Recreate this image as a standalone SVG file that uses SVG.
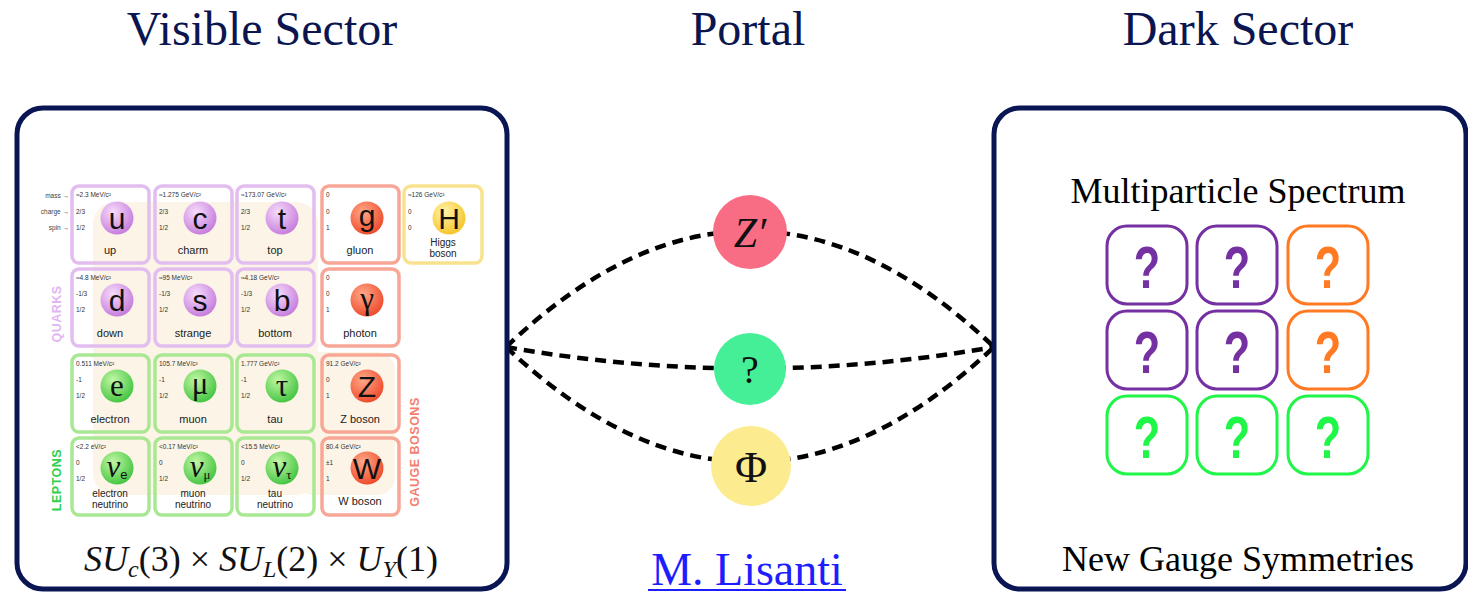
<svg xmlns="http://www.w3.org/2000/svg" width="1468" height="593" viewBox="0 0 1468 593">
  <defs>
    <radialGradient id="gQuark" cx="0.38" cy="0.32" r="0.75">
      <stop offset="0" stop-color="#f6dcfb"/>
      <stop offset="1" stop-color="#c376da"/>
    </radialGradient>
    <radialGradient id="gLepton" cx="0.38" cy="0.32" r="0.75">
      <stop offset="0" stop-color="#c2f7a4"/>
      <stop offset="1" stop-color="#3cc23c"/>
    </radialGradient>
    <radialGradient id="gBoson" cx="0.38" cy="0.32" r="0.75">
      <stop offset="0" stop-color="#ffa888"/>
      <stop offset="1" stop-color="#ec4526"/>
    </radialGradient>
    <radialGradient id="gHiggs" cx="0.38" cy="0.32" r="0.75">
      <stop offset="0" stop-color="#fff3a8"/>
      <stop offset="1" stop-color="#f5c221"/>
    </radialGradient>
    <style>
      .title { font-family: "Liberation Serif", "Times New Roman", serif; font-size: 48px; fill: #0b1550; text-anchor: middle; }
      .label { font-family: "Liberation Serif", "Times New Roman", serif; font-size: 36px; fill: #000; text-anchor: middle; }
      .sector { fill: #fff; stroke: #0a1654; stroke-width: 5; }
      .cell { fill: none; stroke-width: 3.5; }
      .cq { stroke: #e2bdf0; }
      .cl { stroke: #a9e892; }
      .cb { stroke: #f8a696; }
      .ch { stroke: #f8e28e; }
      .info { font-family: "Liberation Sans", Arial, sans-serif; font-size: 6.5px; fill: #333; }
      .side { font-family: "Liberation Sans", Arial, sans-serif; font-size: 6.5px; fill: #444; text-anchor: end; }
      .name { font-family: "Liberation Sans", Arial, sans-serif; font-size: 11px; fill: #222; text-anchor: middle; }
      .name2 { font-family: "Liberation Sans", Arial, sans-serif; font-size: 10px; fill: #222; text-anchor: middle; }
      .sym { font-family: "Liberation Sans", Arial, sans-serif; font-size: 30px; fill: #111; text-anchor: middle; }
      .symg { font-family: "Liberation Serif", "Times New Roman", serif; font-size: 31px; fill: #111; text-anchor: middle; }
      .group { font-family: "Liberation Sans", Arial, sans-serif; font-size: 12.5px; font-weight: bold; text-anchor: middle; letter-spacing: 0.5px; }
      .dash { fill: none; stroke: #000; stroke-width: 4.5; stroke-dasharray: 11 7; }
      .portal { font-family: "Liberation Serif", "Times New Roman", serif; fill: #111; text-anchor: middle; }
      .dbox { fill: #fff; stroke-width: 3; }
      .qm { font-family: "Liberation Sans", Arial, sans-serif; font-size: 60px; font-weight: bold; text-anchor: middle; }
    </style>
  </defs>

  <rect width="1468" height="593" fill="#fff"/>

  <!-- headings -->
  <text class="title" x="262" y="45">Visible Sector</text>
  <text class="title" x="748" y="45">Portal</text>
  <text class="title" x="1238" y="45">Dark Sector</text>

  <!-- connectors -->
  <g id="connectors">
    <path class="dash" d="M506,347 Q750,115 994,347"/>
    <path class="dash" d="M506,347 Q750,390 994,347"/>
    <path class="dash" d="M506,347 Q750,577 994,347"/>
  </g>

  <!-- visible sector: standard model chart -->
  <g id="visible-sector">
    <rect class="sector" x="17" y="108" width="490" height="481" rx="26"/>
    <!-- chart background -->
    <rect x="93" y="202" width="225" height="293" rx="22" fill="#fcf4e6"/>
    <rect x="296" y="352" width="99" height="143" rx="18" fill="#fcf4e6"/>

    <!-- row labels -->
    <text class="side" x="69" y="198">mass →</text>
    <text class="side" x="69" y="214">charge →</text>
    <text class="side" x="69" y="230">spin →</text>

    <text class="group" transform="translate(61,314) rotate(-90)" fill="#e2b6f2">QUARKS</text>
    <text class="group" transform="translate(61,480) rotate(-90)" fill="#2fd14f">LEPTONS</text>
    <text class="group" transform="translate(419,452) rotate(-90)" fill="#f37f70">GAUGE BOSONS</text>

    <!-- quarks, row 1 -->
    <g id="cell-up">
      <rect class="cell cq" x="72" y="186" width="77" height="77" rx="7"/>
      <text class="info" x="76" y="197">≈2.3 MeV/c²</text>
      <text class="info" x="76" y="214">2/3</text>
      <text class="info" x="76" y="230">1/2</text>
      <circle cx="117" cy="218" r="16.5" fill="url(#gQuark)"/>
      <text class="sym" x="117" y="229">u</text>
      <text class="name" x="110" y="254">up</text>
    </g>
    <g id="cell-charm">
      <rect class="cell cq" x="155" y="186" width="77" height="77" rx="7"/>
      <text class="info" x="159" y="197">≈1.275 GeV/c²</text>
      <text class="info" x="159" y="214">2/3</text>
      <text class="info" x="159" y="230">1/2</text>
      <circle cx="200" cy="218" r="16.5" fill="url(#gQuark)"/>
      <text class="sym" x="200" y="229">c</text>
      <text class="name" x="193" y="254">charm</text>
    </g>
    <g id="cell-top">
      <rect class="cell cq" x="237" y="186" width="77" height="77" rx="7"/>
      <text class="info" x="241" y="197">≈173.07 GeV/c²</text>
      <text class="info" x="241" y="214">2/3</text>
      <text class="info" x="241" y="230">1/2</text>
      <circle cx="282" cy="218" r="16.5" fill="url(#gQuark)"/>
      <text class="sym" x="282" y="229">t</text>
      <text class="name" x="275" y="254">top</text>
    </g>
    <g id="cell-gluon">
      <rect class="cell cb" x="322" y="186" width="77" height="77" rx="7"/>
      <text class="info" x="326" y="197">0</text>
      <text class="info" x="326" y="214">0</text>
      <text class="info" x="326" y="230">1</text>
      <circle cx="367" cy="218" r="16.5" fill="url(#gBoson)"/>
      <text class="sym" x="367" y="226">g</text>
      <text class="name" x="360" y="254">gluon</text>
    </g>
    <g id="cell-higgs">
      <rect class="cell ch" x="404" y="186" width="78" height="77" rx="7"/>
      <text class="info" x="408" y="197">≈126 GeV/c²</text>
      <text class="info" x="408" y="214">0</text>
      <text class="info" x="408" y="230">0</text>
      <circle cx="449" cy="218" r="16.5" fill="url(#gHiggs)"/>
      <text class="sym" x="449" y="229">H</text>
      <text class="name2" x="443" y="246">Higgs</text>
      <text class="name2" x="443" y="257">boson</text>
    </g>

    <!-- quarks, row 2 -->
    <g id="cell-down">
      <rect class="cell cq" x="72" y="269" width="77" height="77" rx="7"/>
      <text class="info" x="76" y="280">≈4.8 MeV/c²</text>
      <text class="info" x="76" y="296">-1/3</text>
      <text class="info" x="76" y="312">1/2</text>
      <circle cx="117" cy="300" r="16.5" fill="url(#gQuark)"/>
      <text class="sym" x="117" y="311">d</text>
      <text class="name" x="110" y="337">down</text>
    </g>
    <g id="cell-strange">
      <rect class="cell cq" x="155" y="269" width="77" height="77" rx="7"/>
      <text class="info" x="159" y="280">≈95 MeV/c²</text>
      <text class="info" x="159" y="296">-1/3</text>
      <text class="info" x="159" y="312">1/2</text>
      <circle cx="200" cy="300" r="16.5" fill="url(#gQuark)"/>
      <text class="sym" x="200" y="311">s</text>
      <text class="name" x="193" y="337">strange</text>
    </g>
    <g id="cell-bottom">
      <rect class="cell cq" x="237" y="269" width="77" height="77" rx="7"/>
      <text class="info" x="241" y="280">≈4.18 GeV/c²</text>
      <text class="info" x="241" y="296">-1/3</text>
      <text class="info" x="241" y="312">1/2</text>
      <circle cx="282" cy="300" r="16.5" fill="url(#gQuark)"/>
      <text class="sym" x="282" y="311">b</text>
      <text class="name" x="275" y="337">bottom</text>
    </g>
    <g id="cell-photon">
      <rect class="cell cb" x="322" y="269" width="77" height="77" rx="7"/>
      <text class="info" x="326" y="280">0</text>
      <text class="info" x="326" y="296">0</text>
      <text class="info" x="326" y="312">1</text>
      <circle cx="367" cy="300" r="16.5" fill="url(#gBoson)"/>
      <text class="symg" x="367" y="309">γ</text>
      <text class="name" x="360" y="337">photon</text>
    </g>

    <!-- leptons, row 3 -->
    <g id="cell-electron">
      <rect class="cell cl" x="72" y="355" width="77" height="77" rx="7"/>
      <text class="info" x="76" y="366">0.511 MeV/c²</text>
      <text class="info" x="76" y="382">-1</text>
      <text class="info" x="76" y="398">1/2</text>
      <circle cx="117" cy="386" r="16.5" fill="url(#gLepton)"/>
      <text class="symg" x="117" y="396">e</text>
      <text class="name" x="110" y="423">electron</text>
    </g>
    <g id="cell-muon">
      <rect class="cell cl" x="155" y="355" width="77" height="77" rx="7"/>
      <text class="info" x="159" y="366">105.7 MeV/c²</text>
      <text class="info" x="159" y="382">-1</text>
      <text class="info" x="159" y="398">1/2</text>
      <circle cx="200" cy="386" r="16.5" fill="url(#gLepton)"/>
      <text class="symg" x="200" y="394">μ</text>
      <text class="name" x="193" y="423">muon</text>
    </g>
    <g id="cell-tau">
      <rect class="cell cl" x="237" y="355" width="77" height="77" rx="7"/>
      <text class="info" x="241" y="366">1.777 GeV/c²</text>
      <text class="info" x="241" y="382">-1</text>
      <text class="info" x="241" y="398">1/2</text>
      <circle cx="282" cy="386" r="16.5" fill="url(#gLepton)"/>
      <text class="symg" x="282" y="396">τ</text>
      <text class="name" x="275" y="423">tau</text>
    </g>
    <g id="cell-z">
      <rect class="cell cb" x="322" y="355" width="77" height="77" rx="7"/>
      <text class="info" x="326" y="366">91.2 GeV/c²</text>
      <text class="info" x="326" y="382">0</text>
      <text class="info" x="326" y="398">1</text>
      <circle cx="367" cy="386" r="16.5" fill="url(#gBoson)"/>
      <text class="sym" x="367" y="397">Z</text>
      <text class="name" x="360" y="423">Z boson</text>
    </g>

    <!-- leptons, row 4 -->
    <g id="cell-nu-e">
      <rect class="cell cl" x="72" y="438" width="77" height="77" rx="7"/>
      <text class="info" x="76" y="449">&lt;2.2 eV/c²</text>
      <text class="info" x="76" y="465">0</text>
      <text class="info" x="76" y="481">1/2</text>
      <circle cx="117" cy="468" r="16.5" fill="url(#gLepton)"/>
      <text class="symg" x="117" y="477" font-style="italic">ν<tspan font-size="13" font-style="normal" font-family="Liberation Sans, Arial, sans-serif" dy="2">e</tspan></text>
      <text class="name2" x="110" y="497">electron</text>
      <text class="name2" x="110" y="508">neutrino</text>
    </g>
    <g id="cell-nu-mu">
      <rect class="cell cl" x="155" y="438" width="77" height="77" rx="7"/>
      <text class="info" x="159" y="449">&lt;0.17 MeV/c²</text>
      <text class="info" x="159" y="465">0</text>
      <text class="info" x="159" y="481">1/2</text>
      <circle cx="200" cy="468" r="16.5" fill="url(#gLepton)"/>
      <text class="symg" x="200" y="477" font-style="italic">ν<tspan font-size="13" font-style="normal" dy="2">μ</tspan></text>
      <text class="name2" x="193" y="497">muon</text>
      <text class="name2" x="193" y="508">neutrino</text>
    </g>
    <g id="cell-nu-tau">
      <rect class="cell cl" x="237" y="438" width="77" height="77" rx="7"/>
      <text class="info" x="241" y="449">&lt;15.5 MeV/c²</text>
      <text class="info" x="241" y="465">0</text>
      <text class="info" x="241" y="481">1/2</text>
      <circle cx="282" cy="468" r="16.5" fill="url(#gLepton)"/>
      <text class="symg" x="282" y="477" font-style="italic">ν<tspan font-size="13" font-style="normal" dy="2">τ</tspan></text>
      <text class="name2" x="275" y="497">tau</text>
      <text class="name2" x="275" y="508">neutrino</text>
    </g>
    <g id="cell-w">
      <rect class="cell cb" x="322" y="438" width="77" height="77" rx="7"/>
      <text class="info" x="326" y="449">80.4 GeV/c²</text>
      <text class="info" x="326" y="465">±1</text>
      <text class="info" x="326" y="481">1</text>
      <circle cx="367" cy="468" r="16.5" fill="url(#gBoson)"/>
      <text class="sym" x="367" y="479">W</text>
      <text class="name" x="360" y="505">W boson</text>
    </g>

    <!-- gauge group -->
    <text x="261" y="571" font-family="Liberation Serif, Times New Roman, serif" font-size="36" font-style="italic" text-anchor="middle" fill="#111">SU<tspan font-size="24" dy="6">c</tspan><tspan font-style="normal" dy="-6">(3) × </tspan>SU<tspan font-size="24" dy="6">L</tspan><tspan font-style="normal" dy="-6">(2) × </tspan>U<tspan font-size="24" dy="6">Y</tspan><tspan font-style="normal" dy="-6">(1)</tspan></text>
  </g>

  <!-- portal mediators -->
  <g id="node-zprime">
    <circle cx="750" cy="232" r="37" fill="#f86d83"/>
    <text class="portal" x="750" y="247" font-size="42" font-style="italic">Z′</text>
  </g>
  <g id="node-unknown">
    <circle cx="750" cy="369" r="36" fill="#44ef97"/>
    <text class="portal" x="750" y="383" font-size="40">?</text>
  </g>
  <g id="node-phi">
    <circle cx="751" cy="466" r="40" fill="#fdeb8f"/>
    <text class="portal" x="751" y="482" font-size="44">Φ</text>
  </g>

  <!-- attribution -->
  <g id="credit">
    <text x="747" y="585" font-family="Liberation Serif, Times New Roman, serif" font-size="46" fill="#1d1dff" text-anchor="middle">M. Lisanti</text>
    <rect x="648" y="589" width="198" height="2" fill="#1d1dff"/>
  </g>

  <!-- dark sector -->
  <g id="dark-sector">
    <rect class="sector" x="994" y="108" width="472" height="481" rx="26"/>
    <text class="label" x="1238" y="203">Multiparticle Spectrum</text>
    <text class="label" x="1238" y="571">New Gauge Symmetries</text>
  </g>

  <g id="dark-1-1"><rect class="dbox" x="1107" y="226" width="80" height="78" rx="20" stroke="#7530a2"/><text class="qm" transform="translate(1147,288) scale(0.72,1)" fill="#7530a2">?</text></g>
  <g id="dark-1-2"><rect class="dbox" x="1197" y="226" width="80" height="78" rx="20" stroke="#7530a2"/><text class="qm" transform="translate(1237,288) scale(0.72,1)" fill="#7530a2">?</text></g>
  <g id="dark-1-3"><rect class="dbox" x="1288" y="226" width="80" height="78" rx="20" stroke="#ff7a22"/><text class="qm" transform="translate(1328,288) scale(0.72,1)" fill="#ff7a22">?</text></g>
  <g id="dark-2-1"><rect class="dbox" x="1107" y="311" width="80" height="78" rx="20" stroke="#7530a2"/><text class="qm" transform="translate(1147,373) scale(0.72,1)" fill="#7530a2">?</text></g>
  <g id="dark-2-2"><rect class="dbox" x="1197" y="311" width="80" height="78" rx="20" stroke="#7530a2"/><text class="qm" transform="translate(1237,373) scale(0.72,1)" fill="#7530a2">?</text></g>
  <g id="dark-2-3"><rect class="dbox" x="1288" y="311" width="80" height="78" rx="20" stroke="#ff7a22"/><text class="qm" transform="translate(1328,373) scale(0.72,1)" fill="#ff7a22">?</text></g>
  <g id="dark-3-1"><rect class="dbox" x="1107" y="396" width="80" height="78" rx="20" stroke="#1ff648"/><text class="qm" transform="translate(1147,458) scale(0.72,1)" fill="#1ff648">?</text></g>
  <g id="dark-3-2"><rect class="dbox" x="1197" y="396" width="80" height="78" rx="20" stroke="#1ff648"/><text class="qm" transform="translate(1237,458) scale(0.72,1)" fill="#1ff648">?</text></g>
  <g id="dark-3-3"><rect class="dbox" x="1288" y="396" width="80" height="78" rx="20" stroke="#1ff648"/><text class="qm" transform="translate(1328,458) scale(0.72,1)" fill="#1ff648">?</text></g>
</svg>
